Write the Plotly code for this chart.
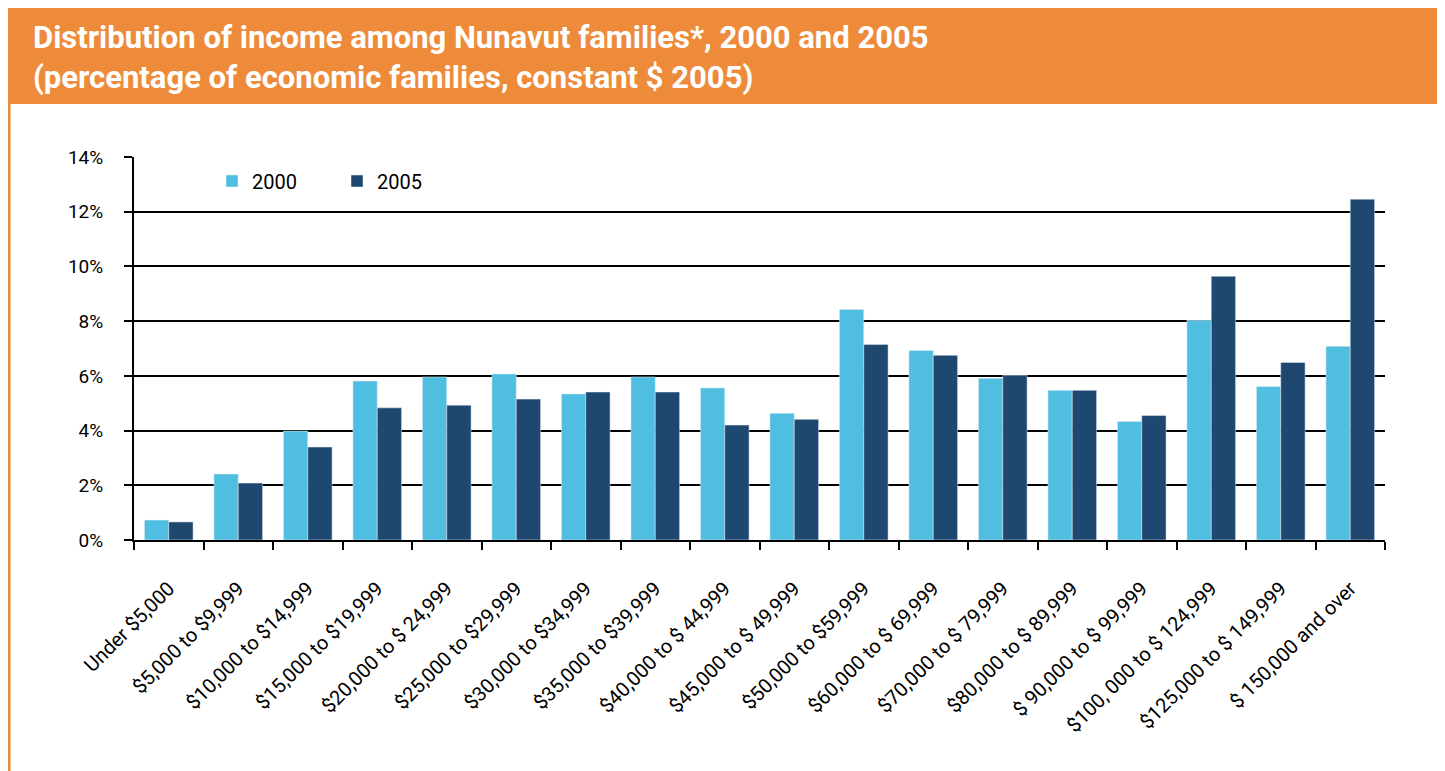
import plotly.graph_objects as go

categories = [
    "Under $5,000", "$5,000 to $9,999", "$10,000 to $14,999", "$15,000 to $19,999",
    "$20,000 to $ 24,999", "$25,000 to $29,999", "$30,000 to $34,999", "$35,000 to $39,999",
    "$40,000 to $ 44,999", "$45,000 to $ 49,999", "$50,000 to $59,999", "$60,000 to $ 69,999",
    "$70,000 to $ 79,999", "$80,000 to $ 89,999", "$ 90,000 to $ 99,999",
    "$100, 000 to $ 124,999", "$125,000 to $ 149,999", "$ 150,000 and over",
]
values_2000 = [0.73, 2.41, 3.98, 5.81, 5.96, 6.07, 5.34, 5.96, 5.56, 4.63,
               8.43, 6.93, 5.91, 5.47, 4.33, 8.03, 5.61, 7.08]
values_2005 = [0.66, 2.08, 3.40, 4.83, 4.93, 5.15, 5.41, 5.41, 4.20, 4.41,
               7.15, 6.75, 6.02, 5.47, 4.55, 9.64, 6.49, 12.46]
series_names = ["2000", "2005"]
y_tick_values = [0, 2, 4, 6, 8, 10, 12, 14]
y_tick_labels = ["0%", "2%", "4%", "6%", "8%", "10%", "12%", "14%"]
title_lines = ["Distribution of income among Nunavut families*, 2000 and 2005",
               "(percentage of economic families, constant $ 2005)"]

# page is offset by the 8px body margin; work in page pixels and convert
OFF = 8
W, H = 1445 - OFF, 771 - OFF
ML, MR, MT, MB = 134 - OFF, 60, 157 - OFF, 231
PW, PH = W - ML - MR, H - MT - MB

def px_x(px):
    return (px - OFF - ML) / PW

def px_y(py):
    return (H - MB - (py - OFF)) / PH

ORANGE = "#EE8B3B"
LIGHT = "#50BEE0"
DARK = "#1F4870"
FONT = "Roboto"

fig = go.Figure()
fig.add_trace(go.Bar(x=categories, y=values_2000, name=series_names[0], marker_color=LIGHT))
fig.add_trace(go.Bar(x=categories, y=values_2005, name=series_names[1], marker_color=DARK))

fig.update_layout(
    width=W, height=H,
    margin=dict(l=ML, r=MR, t=MT, b=MB, pad=0),
    paper_bgcolor="white", plot_bgcolor="white",
    barmode="group", bargap=0.3, bargroupgap=0,
    font=dict(family=FONT, color="black", size=18),
    title=dict(
        text="<b>" + "<br>".join(title_lines) + "</b>",
        x=(33 - OFF) / W, xanchor="left", xref="container",
        y=1 - 40 / H, yanchor="top", yref="container",
        font=dict(family=FONT, size=31, color="white"),
    ),
    legend=dict(
        orientation="h", x=px_x(212), xanchor="left", y=px_y(181), yanchor="middle",
        bgcolor="rgba(0,0,0,0)", font=dict(family=FONT, size=20, color="black"),
        entrywidth=80, entrywidthmode="pixels", itemclick=False,
    ),
    xaxis=dict(
        type="category", showline=True, linecolor="black", linewidth=2,
        ticks="outside", tickson="boundaries", ticklen=8, tickwidth=2, tickcolor="black",
        tickangle=-45, tickfont=dict(family=FONT, size=20, color="black"),
        ticklabelstandoff=27, showgrid=False,
    ),
    yaxis=dict(
        range=[0, 14], tickvals=y_tick_values, ticktext=y_tick_labels,
        showline=True, linecolor="black", linewidth=2,
        ticks="outside", ticklen=8, tickwidth=2, tickcolor="black",
        showgrid=True, gridcolor="black", gridwidth=2.4, zeroline=False,
        tickfont=dict(family=FONT, size=19, color="black"), ticklabelstandoff=17,
    ),
    shapes=[
        dict(type="rect", xref="paper", yref="paper", layer="below",
             x0=px_x(OFF), x1=px_x(1445), y0=px_y(104), y1=px_y(OFF),
             fillcolor=ORANGE, line=dict(width=0)),
        dict(type="rect", xref="paper", yref="paper", layer="below",
             x0=px_x(OFF), x1=px_x(OFF + 2.5), y0=px_y(771), y1=px_y(104),
             fillcolor=ORANGE, line=dict(width=0)),
        dict(type="rect", xref="paper", yref="paper", layer="below",
             x0=px_x(1443.5), x1=px_x(1445), y0=px_y(771), y1=px_y(104),
             fillcolor="#F2A766", line=dict(width=0)),
    ],
)

fig.write_html("out.html")
